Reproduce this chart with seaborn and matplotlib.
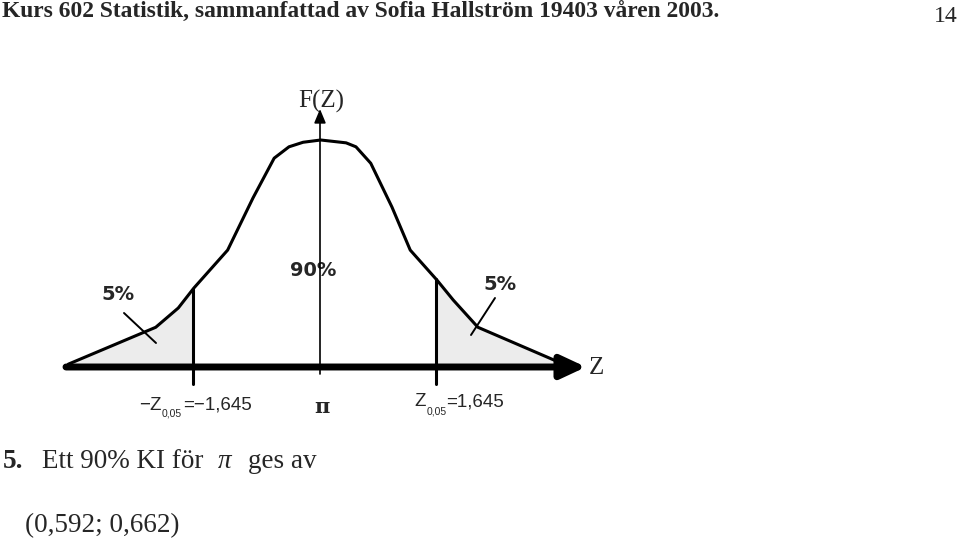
import numpy as np
import matplotlib
matplotlib.use("Agg")
import matplotlib.pyplot as plt
import seaborn as sns
import pandas as pd

# curve: z and F(z)
z_vals = [-3.57, -2.33, -2.01, -1.79, -1.31, -0.95, -0.65, -0.44, -0.24, 0.01,
          0.37, 0.51, 0.72, 1.02, 1.28, 1.66, 1.89, 2.24, 3.38]
f_vals = [0.005, 0.070, 0.104, 0.139, 0.206, 0.298, 0.368, 0.388, 0.396, 0.400,
          0.395, 0.388, 0.359, 0.282, 0.206, 0.153, 0.118, 0.070, 0.009]
cut_left = -1.80
cut_right = 1.645
tail_labels = ["5%", "5%"]
mid_label = "90%"
crit_value = "1,645"
alpha_sub = "0,05"

header = "Kurs 602 Statistik, sammanfattad av Sofia Hallström 19403 våren 2003."
page_no = "14"
interval = "(0,592; 0,662)"

sns.set_theme(style="white")
plt.rcParams['font.family'] = ['Liberation Serif', 'DejaVu Serif']

W, H = 960, 542
X0, Y0, SX, SY = 320, 367, 70.5, 567.5   # pixel of z=0,F=0 and pixels per unit


def px(x, y):
    return (x - X0) / SX, (Y0 - y) / SY


fig = plt.figure(figsize=(W / 100, H / 100), dpi=100)
ax = fig.add_axes([0, 0, 1, 1])
ax.set_xlim(px(0, 0)[0], px(W, 0)[0])
ax.set_ylim(px(0, H)[1], px(0, 0)[1])
ax.axis("off")

df = pd.DataFrame({"z": z_vals, "f": f_vals})

# shaded tails
fl = np.interp(cut_left, z_vals, f_vals)
fr = np.interp(cut_right, z_vals, f_vals)
left = df[df.z < cut_left]
right = df[df.z > cut_right]
ax.fill_between(list(left.z) + [cut_left], list(left.f) + [fl], 0, color="#ececec", lw=0, zorder=1)
ax.fill_between([cut_right] + list(right.z), [fr] + list(right.f), 0, color="#ececec", lw=0, zorder=1)

# the curve
sns.lineplot(data=df, x="z", y="f", sort=False, estimator=None, color="black", lw=2.2, ax=ax, zorder=3)

# cut lines
tick_lo = px(0, 384)[1]
ax.plot([cut_left, cut_left], [tick_lo, fl], color="black", lw=2.2, zorder=3)
ax.plot([cut_right, cut_right], [tick_lo, fr], color="black", lw=2.2, zorder=3)

# horizontal axis with arrow
ax.annotate("", xy=px(586, 367), xytext=px(66, 367),
            arrowprops=dict(arrowstyle="-|>,head_length=0.75,head_width=0.35", lw=5,
                            color="black", mutation_scale=20, shrinkA=0, shrinkB=0), zorder=4)
# vertical axis with arrow
ax.annotate("", xy=px(320, 109), xytext=px(320, 374),
            arrowprops=dict(arrowstyle="-|>,head_length=0.6,head_width=0.25", lw=1.2,
                            color="black", mutation_scale=14, shrinkA=0, shrinkB=0), zorder=4)

# labels in the figure
bold_sans = dict(family="DejaVu Sans", fontweight="bold", fontsize=14, ha="center", va="center")
ax.text(*px(118, 294), tail_labels[0], **bold_sans)
ax.text(*px(500, 284), tail_labels[1], **bold_sans)
ax.text(*px(313, 270), mid_label, **bold_sans)
ax.plot(*zip(px(124, 313), px(156, 343)), color="black", lw=1.4)
ax.plot(*zip(px(495, 298), px(471, 335)), color="black", lw=1.4)

ax.text(*px(321, 101), "F(Z)", fontsize=18, ha="center", va="center")
ax.text(*px(596, 368), "Z", fontsize=18, ha="center", va="center")

sans = ["Liberation Sans", "DejaVu Sans"]
narrow = dict(family=sans, fontsize=13.5, va="center", ha="left")
sub = dict(family=sans, fontsize=7.5, va="center", ha="left")
ax.text(*px(139, 405), "\u2212Z", **narrow)
ax.text(*px(162, 414), alpha_sub, **sub)
ax.text(*px(183, 405), "=\u2212" + crit_value, **narrow)
ax.text(*px(414, 402), "Z", **narrow)
ax.text(*px(427, 412), alpha_sub, **sub)
ax.text(*px(446, 402), "=" + crit_value, **narrow)
ax.text(*px(322, 407), "\u03c0", family="DejaVu Serif", fontweight="bold", fontsize=15, ha="center", va="center")

# page text
fig.text(2 / W, 1 - 12 / H, header, fontsize=16.9, fontweight="bold", ha="left", va="center")
fig.text(958 / W, 1 - 16 / H, page_no, fontsize=17, ha="right", va="center")
fig.text(3 / W, 1 - 461 / H, "5.", fontsize=19.5, fontweight="bold", ha="left", va="center")
fig.text(42 / W, 1 - 461 / H, "Ett 90% KI för", fontsize=19.5, ha="left", va="center")
fig.text(218 / W, 1 - 461 / H, "\u03c0", fontsize=19.5, style="italic", ha="left", va="center")
fig.text(248 / W, 1 - 461 / H, "ges av", fontsize=19.5, ha="left", va="center")
fig.text(25 / W, 1 - 526 / H, interval, fontsize=19.5, ha="left", va="center")

fig.savefig("out.png", dpi=100, facecolor="white")
